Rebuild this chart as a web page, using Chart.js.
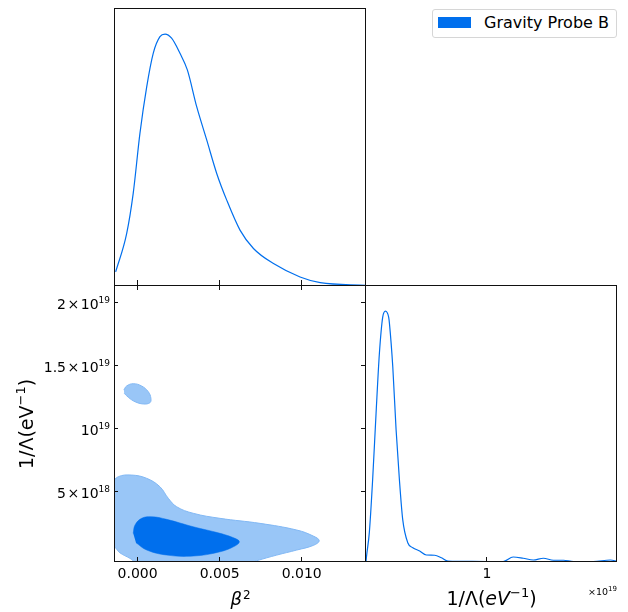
<!DOCTYPE html>
<html>
<head>
<meta charset="utf-8">
<title>Gravity Probe B</title>
<script src="https://cdn.jsdelivr.net/npm/chart.js@4.4.1/dist/chart.umd.min.js"></script>
<style>
  body { margin: 0; background: #fff; }
  #wrap { position: relative; width: 628px; height: 612px; }
  #wrap canvas { position: absolute; left: 0; top: 0; }
  #legend {
    position: absolute; left: 432px; top: 9px; width: 185px; height: 29px;
    box-sizing: border-box; border: 1px solid #d6d6d6; border-radius: 3px;
    font: 16px "DejaVu Sans", sans-serif; color: #000; background: #fff;
  }
  #legend .patch { position: absolute; left: 5px; top: 7px; width: 33px; height: 11px; background: #006FED; }
  #legend .label { position: absolute; left: 51px; top: 3px; white-space: nowrap; }
</style>
</head>
<body>
<div id="wrap">
  <canvas id="topLeft" width="628" height="612"></canvas>
  <canvas id="bottomLeft" width="628" height="612"></canvas>
  <canvas id="bottomRight" width="628" height="612"></canvas>
  <div id="legend"><span class="patch"></span><span class="label">Gravity Probe B</span></div>
</div>
<script>
// beta^2 marginal
const betaX = [-0.00134, -0.00067, -0.00027, 0.00014, 0.00055, 0.00095, 0.00136, 0.00167, 0.00207,
  0.00258, 0.00303, 0.0036, 0.00421, 0.00482, 0.00543, 0.00624, 0.00706, 0.00828, 0.0099, 0.01113, 0.0139];
const betaP = [0.056, 0.208, 0.368, 0.606, 0.79, 0.924, 0.99, 1.0, 0.984,
  0.924, 0.858, 0.712, 0.58, 0.447, 0.341, 0.222, 0.149, 0.089, 0.036, 0.0135, 0.003];

// 1/Lambda marginal (units of 1e19 eV^-1)
const lamX = [-0.056, -0.051, -0.027, 0.002, 0.032, 0.061, 0.09, 0.114, 0.142, 0.149, 0.178, 0.207,
  0.236, 0.265, 0.309, 0.353, 0.413, 0.471, 0.544, 0.603, 0.66, 0.763, 0.997, 1.143, 1.23, 1.318,
  1.406, 1.494, 1.582, 1.67, 1.757, 1.93, 2.08, 2.1375];
const lamP = [0.0, 0.024, 0.117, 0.328, 0.593, 0.831, 0.976, 1.0, 0.976, 0.95, 0.778, 0.527,
  0.328, 0.169, 0.077, 0.057, 0.044, 0.028, 0.027, 0.017, 0.004, 0.003, 0.002, 0.002, 0.02, 0.015,
  0.008, 0.015, 0.007, 0.007, 0.002, 0.002, 0.008, 0.003];

// 2D contours: 95% (outer), 68% (inner) and the small 95% island
const outerBeta = [-0.00159, -0.00118, -0.00037, 0.00055, 0.00136, 0.00187, 0.00238, 0.00339, 0.00502,
  0.00746, 0.0097, 0.01071, 0.01107, 0.01071, 0.0097, 0.00848, 0.00726, 0.00644, 0.00034, -0.00047,
  -0.00108, -0.00132, -0.00159];
const outerLam = [0.569, 0.622, 0.635, 0.609, 0.542, 0.45, 0.383, 0.331, 0.291,
  0.251, 0.198, 0.15, 0.113, 0.076, 0.039, -0.001, -0.046, -0.08, -0.094, -0.027,
  0.017, 0.052, 0.092];
const innerBeta = [-0.00027, -0.00016, 0.00024, 0.00085, 0.00177, 0.00339, 0.00502, 0.00593, 0.0062,
  0.00593, 0.00502, 0.00339, 0.00177, 0.00055, -0.0001];
const innerLam = [0.172, 0.238, 0.291, 0.304, 0.283, 0.224, 0.172, 0.132, 0.105,
  0.071, 0.025, -0.009, -0.001, 0.039, 0.097];
const islandBeta = [-0.00084, -0.00067, -0.00027, 0.00024, 0.00065, 0.00081, 0.00075, 0.00034,
  -0.00016, -0.00057, -0.00082];
const islandLam = [1.311, 1.343, 1.361, 1.343, 1.297, 1.245, 1.21, 1.2, 1.218, 1.253, 1.285];

// ticks
const betaTicks = [0, 0.005, 0.01];
const lamTicks = [0.5, 1, 1.5, 2];
const lamTickMant = ['5', '', '1.5', '2'];
const lamTickExp = ['18', '19', '19', '19'];
const lamMargTicks = [1];

const betaRange = [-0.00138, 0.01392];
const lamRange = [-0.056, 2.1375];
const blue = '#006FED';
const paleBlue = '#99C6F7';
const FAM = '"DejaVu Sans", sans-serif';

Chart.defaults.font.family = FAM;
Chart.defaults.color = '#000';
Chart.defaults.animation = false;

const pts = (xs, ys) => xs.map((x, i) => ({x: x, y: ys[i]}));

// text made of runs (for superscripts and italics)
function drawRuns(ctx, runs, x, y, align) {
  const fontOf = r => (r.italic ? 'italic ' : '') + r.size + 'px ' + FAM;
  let total = 0;
  runs.forEach(r => {
    ctx.font = fontOf(r);
    r.w = ctx.measureText(r.text).width + (r.padL || 0) + (r.padR || 0);
    total += r.w;
  });
  let cx = align === 'right' ? x - total : align === 'center' ? x - total / 2 : x;
  ctx.textAlign = 'left';
  ctx.textBaseline = 'alphabetic';
  runs.forEach(r => {
    ctx.font = fontOf(r);
    ctx.fillText(r.text, cx + (r.padL || 0), y - (r.rise || 0));
    cx += r.w;
  });
}

const lamTitleRuns = italic => [
  { text: '1/Λ(', size: 19 },
  { text: 'eV', size: 19, italic: italic },
  { text: '−1', size: 13, rise: 8 },
  { text: ')', size: 19 }
];

// frame round the panel, inward tick marks, labels
const frameAndTicks = {
  id: 'frameAndTicks',
  afterDatasetsDraw(chart, args, opts) {
    const {ctx, chartArea: a} = chart;
    ctx.save();
    ctx.strokeStyle = '#111';
    ctx.lineWidth = 1;
    ctx.strokeRect(a.left - 0.5, a.top - 0.5, a.right - a.left, a.bottom - a.top);
    (opts.marks || []).forEach(m => {
      const scale = chart.scales[m.axis];
      m.values.forEach(v => {
        const p = Math.round(scale.getPixelForValue(v)) - 0.5;
        ctx.beginPath();
        if (m.axis === 'x') {
          ctx.moveTo(p, a.bottom - 1 + m.from);
          ctx.lineTo(p, a.bottom - 1 + m.to);
        } else {
          const x0 = m.side === 'right' ? a.right - 1 : a.left - 1;
          ctx.moveTo(x0 + m.from, p);
          ctx.lineTo(x0 + m.to, p);
        }
        ctx.stroke();
      });
    });
    ctx.fillStyle = '#000';
    if (opts.yLabels) {
      lamTicks.forEach((v, i) => {
        const py = chart.scales.y.getPixelForValue(v);
        const runs = [];
        if (lamTickMant[i]) {
          runs.push({ text: lamTickMant[i], size: 14 }, { text: '×', size: 14, padL: 1.5, padR: 1.5 });
        }
        runs.push({ text: '10', size: 14 }, { text: lamTickExp[i], size: 9, rise: 6 });
        drawRuns(ctx, runs, a.left - 5, py + 6, 'right');
      });
      ctx.save();
      ctx.translate(a.left - 82, (a.top + a.bottom) / 2);
      ctx.rotate(-Math.PI / 2);
      drawRuns(ctx, lamTitleRuns(false), 0, 0, 'center');
      ctx.restore();
    }
    if (opts.xTitle === 'beta') {
      drawRuns(ctx, [{ text: 'β', size: 18, italic: true }, { text: '2', size: 12, rise: 6, padL: 1 }],
        (a.left + a.right) / 2, a.bottom + 43, 'center');
    }
    if (opts.xTitle === 'lambda') {
      drawRuns(ctx, lamTitleRuns(true), (a.left + a.right) / 2, a.bottom + 43, 'center');
      drawRuns(ctx, [{ text: '×10', size: 9.5 }, { text: '19', size: 7, rise: 4 }],
        a.right, a.bottom + 33, 'right');
    }
    ctx.restore();
  }
};

const curveStyle = {
  borderColor: blue, borderWidth: 1.2, pointRadius: 0, fill: false,
  cubicInterpolationMode: 'monotone'
};

const xTickFont = { size: 14 };

// Top left: beta^2 marginal
new Chart(document.getElementById('topLeft'), {
  type: 'line',
  data: { datasets: [Object.assign({ data: pts(betaX, betaP) }, curveStyle)] },
  plugins: [frameAndTicks],
  options: {
    responsive: false,
    layout: { padding: { left: 115, top: 9, right: 262, bottom: 326 } },
    elements: { line: { capBezierPoints: false } },
    scales: {
      x: { type: 'linear', display: false, min: betaRange[0], max: betaRange[1] },
      y: { display: false, min: 0, max: 1.1 }
    },
    plugins: {
      legend: { display: false },
      tooltip: { enabled: false },
      frameAndTicks: { marks: [{ axis: 'x', values: betaTicks, from: -5, to: 5 }] }
    }
  }
});

// Bottom left: 2D contours
new Chart(document.getElementById('bottomLeft'), {
  type: 'line',
  data: {
    datasets: [
      { data: pts(outerBeta, outerLam), backgroundColor: paleBlue, borderColor: '#82B8F4',
        borderWidth: 1, fill: 'shape', tension: 0.4, pointRadius: 0, order: 3 },
      { data: pts(islandBeta, islandLam), backgroundColor: paleBlue, borderColor: '#82B8F4',
        borderWidth: 1, fill: 'shape', tension: 0.4, pointRadius: 0, order: 2 },
      { data: pts(innerBeta, innerLam), backgroundColor: blue, borderColor: blue,
        borderWidth: 0.5, fill: 'shape', tension: 0.4, pointRadius: 0, order: 1 }
    ]
  },
  plugins: [frameAndTicks],
  options: {
    responsive: false,
    layout: { padding: { left: 115, top: 286, right: 262, bottom: 0 } },
    elements: { line: { capBezierPoints: false } },
    scales: {
      x: {
        type: 'linear', position: 'bottom', min: betaRange[0], max: betaRange[1],
        afterFit: s => { s.height = 50; },
        afterBuildTicks: s => { s.ticks = betaTicks.map(v => ({ value: v })); },
        grid: { display: false, drawTicks: false },
        border: { display: false },
        ticks: { font: xTickFont, padding: 4, maxRotation: 0, callback: v => v.toFixed(3) }
      },
      y: { display: false, min: lamRange[0], max: lamRange[1] }
    },
    plugins: {
      legend: { display: false },
      tooltip: { enabled: false },
      frameAndTicks: {
        yLabels: true,
        xTitle: 'beta',
        marks: [
          { axis: 'x', values: betaTicks, from: -4, to: 0 },
          { axis: 'y', values: lamTicks, from: 0, to: 4 },
          { axis: 'y', values: lamTicks, side: 'right', from: -4, to: 0 }
        ]
      }
    }
  }
});

// Bottom right: 1/Lambda marginal
new Chart(document.getElementById('bottomRight'), {
  type: 'line',
  data: { datasets: [Object.assign({ data: pts(lamX, lamP) }, curveStyle)] },
  plugins: [frameAndTicks],
  options: {
    responsive: false,
    layout: { padding: { left: 366, top: 286, right: 11, bottom: 0 } },
    elements: { line: { capBezierPoints: false } },
    scales: {
      x: {
        type: 'linear', position: 'bottom', min: lamRange[0], max: lamRange[1],
        afterFit: s => { s.height = 50; },
        afterBuildTicks: s => { s.ticks = lamMargTicks.map(v => ({ value: v })); },
        grid: { display: false, drawTicks: false },
        border: { display: false },
        ticks: { font: xTickFont, padding: 4, maxRotation: 0, callback: v => String(v) }
      },
      y: { display: false, min: 0, max: 1.1 }
    },
    plugins: {
      legend: { display: false },
      tooltip: { enabled: false },
      frameAndTicks: {
        xTitle: 'lambda',
        marks: [{ axis: 'x', values: lamMargTicks, from: -4, to: 0 }]
      }
    }
  }
});
</script>
</body>
</html>
